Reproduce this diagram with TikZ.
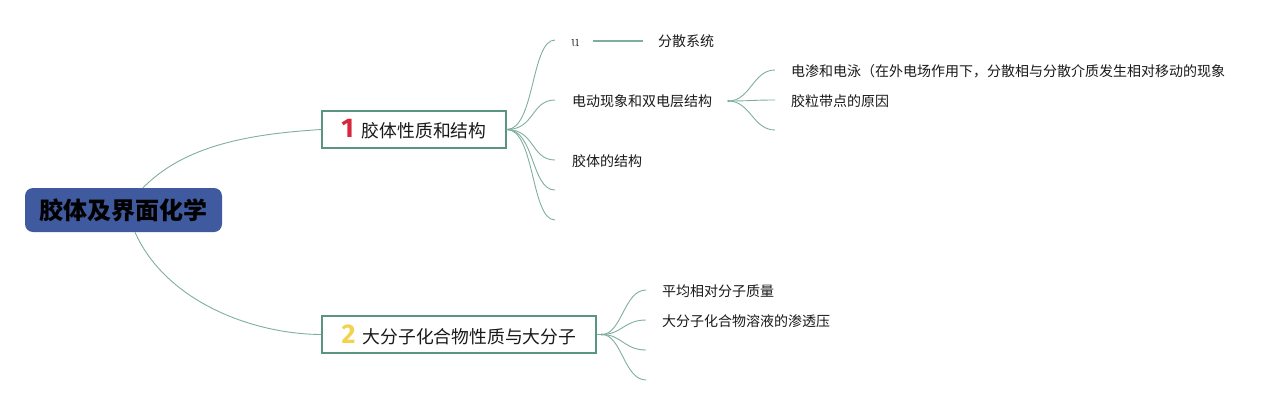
\documentclass[tikz,border=0pt]{standalone}
\usepackage{fontspec}
\newfontfamily\cjk{Noto Sans CJK SC}
\newfontfamily\numfont{Fira Sans}
\usetikzlibrary{calc}
\definecolor{rootblue}{HTML}{3F5A9E}
\definecolor{boxgreen}{HTML}{5A9482}
\definecolor{linegreen}{HTML}{7FAF9C}
\definecolor{numred}{HTML}{D8263C}
\definecolor{numyellow}{HTML}{F2D34E}
\tikzset{
  rootbox/.style={fill=rootblue, rounded corners=8pt, minimum width=197pt, minimum height=44pt, inner sep=0pt, font=\cjk\bfseries\fontsize{24}{24}\selectfont, text=black},
  mainbox/.style={draw=boxgreen, line width=1.6pt, fill=white, minimum height=37pt, inner sep=0pt, font=\cjk\fontsize{17.8}{17.8}\selectfont, text=black!90},
  leaf/.style={anchor=west, inner sep=0pt, font=\cjk\fontsize{14}{14}\selectfont, text=black!90},
  conn/.style={draw=linegreen, line width=0.9pt},
}
\begin{document}
\begin{tikzpicture}[x=1pt,y=-1pt]
\useasboundingbox (0,0) rectangle (1285,405);
% main nodes
\node[rootbox] (root) at (123.5,210) {胶体及界面化学};
\node[mainbox, minimum width=184pt] (n1) at (414,129.5) {{\numfont\bfseries\fontsize{27}{27}\selectfont\color{numred}1}\hspace{8pt}胶体性质和结构};
\node[mainbox, minimum width=274pt] (n2) at (459,334.5) {{\numfont\bfseries\fontsize{27}{27}\selectfont\color{numyellow}2}\hspace{7pt}大分子化合物性质与大分子};
% root connectors
\coordinate (rt) at ($(root.north)+(19.5,0)$);
\coordinate (rb) at ($(root.south)+(11.5,0)$);
\draw[conn] (rt) .. controls (185,145) and (250,134) .. (n1.west);
\draw[conn] (rb) .. controls (165,300) and (250,334) .. (n2.west);
% level 2 under n1
\coordinate (s1) at ($(n1.east)+(0,0)$);
\foreach \y/\nm in {40/a1,100/a2,160/a3,190/a4,220/a5}{
  \coordinate (\nm) at (555,\y);
  \draw[conn] (s1) .. controls +(28,0) and +(-24,0) .. (\nm);
}
\node[anchor=base west, inner sep=0pt, font=\fontsize{16}{16}\selectfont, text=black!90] (u) at (571,46) {u};
\node[leaf] (fs) at (658,41) {分散系统};
\draw[draw=linegreen, line width=1.6pt, shorten <=13pt, shorten >=15pt] (fs.west -| u.east) -- (fs.west);
\node[leaf] (dd) at (572,101) {电动现象和双电层结构};
\node[leaf] (jt) at (572,161) {胶体的结构};
% level 3 under dd
\coordinate (s2) at ($(dd.east)+(16,0)$);
\foreach \y/\nm in {70/b1,100/b2,130/b3}{
  \coordinate (\nm) at (775,\y);
  \draw[conn] (s2) .. controls +(22,0) and +(-22,0) .. (\nm);
}
\fill[linegreen] (s2) circle (1.3pt);
\node[leaf] (ds) at (791,71) {电渗和电泳（在外电场作用下，分散相与分散介质发生相对移动的现象};
\node[leaf] (jl) at (791,101) {胶粒带点的原因};
% level 2 under n2
\coordinate (s3) at ($(n2.east)+(5,0)$);
\draw[conn] (n2.east) -- (s3);
\foreach \y/\nm in {290/c1,320/c2,350/c3,380/c4}{
  \coordinate (\nm) at (646,\y);
  \draw[conn] (s3) .. controls +(20,0) and +(-22,0) .. (\nm);
}
\fill[linegreen] (s3) circle (1.3pt);
\node[leaf] (pj) at (662,291) {平均相对分子质量};
\node[leaf] (st) at (662,321) {大分子化合物溶液的渗透压};
\end{tikzpicture}
\end{document}
